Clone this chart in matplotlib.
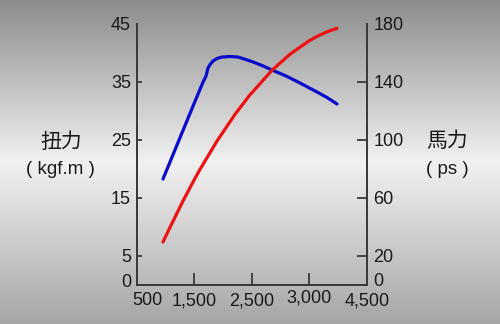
import numpy as np
import matplotlib
matplotlib.use("Agg")
import matplotlib.pyplot as plt
import matplotlib.transforms as mtransforms
from matplotlib.colors import LinearSegmentedColormap

# ---- data ----
x_ticks = [500, 1500, 2500, 3000, 4500]
x_tick_labels = ["500", "1,500", "2,500", "3,000", "4,500"]
torque_ticks = [0, 5, 15, 25, 35, 45]
power_ticks = [0, 20, 60, 100, 140, 180]

torque_rpm = [960, 1307, 1500, 1655, 1707, 1724, 1741, 1776, 1828, 1898, 1984, 2123,
              2262, 2500, 2589, 2676, 2798, 2919, 3000, 3200, 3460, 3720]
torque_val = [18.19, 26.57, 31.22, 34.91, 35.95, 36.64, 37.33, 37.93, 38.53, 38.97, 39.22,
              39.31, 39.22, 38.45, 37.76, 36.98, 35.95, 34.74, 33.88, 33.19, 32.24, 31.12]

power_rpm = [960, 1082, 1307, 1500, 1602, 1898, 2210, 2470, 2500, 2676, 2833, 3000,
             3200, 3460, 3720]
power_val = [29.3, 39.5, 57.6, 72.1, 79.4, 99.0, 117.4, 130.9, 132.1, 147.8, 158.9, 168.2,
             171.1, 174.3, 176.7]

W, H, DPI = 500, 324, 100
fig = plt.figure(figsize=(W / DPI, H / DPI), dpi=DPI)

# background gradient
bg = fig.add_axes([0, 0, 1, 1])
cmap = LinearSegmentedColormap.from_list(
    "bg", [(0.0, "#8c8c8c"), (0.5, "#f1f1f1"), (1.0, "#a6a6a6")])
grad = np.linspace(0, 1, 256).reshape(-1, 1)
bg.imshow(grad, aspect="auto", cmap=cmap, extent=[0, 1, 0, 1], origin="upper")
bg.set_axis_off()

left, right = 136.5 / W, 367 / W
bottom, top = (H - 284.5) / H, (H - 23.5) / H
ax = fig.add_axes([left, bottom, right - left, top - bottom])
ax.set_facecolor("none")

pos = np.arange(len(x_ticks), dtype=float)
def fwd(v):
    return np.interp(v, x_ticks, pos)
def inv(p):
    return np.interp(p, pos, x_ticks)
ax.set_xscale("function", functions=(fwd, inv))
ax.set_xlim(x_ticks[0], x_ticks[-1])
ax.set_ylim(0, 45)

ax2 = ax.twinx()
ax2.set_ylim(0, 180)

spine_c = "#3a3a3a"
for a in (ax, ax2):
    for s in a.spines.values():
        s.set_color(spine_c)
        s.set_linewidth(1.3)
    a.spines["top"].set_visible(False)

tick_font = dict(family="Liberation Sans", size=13)
txt_c = "#1a1a1a"

ax.set_xticks(x_ticks)
ax.set_xticklabels(x_tick_labels, **tick_font, color=txt_c)
ax.tick_params(axis="x", direction="in", length=9, width=1.3, color=spine_c, pad=5.5)
xl = ax.get_xticklabels()
xl[0].set_ha("left")
xl[0].set_transform(xl[0].get_transform() + mtransforms.ScaledTranslation(-4 / DPI, 0, fig.dpi_scale_trans))
xl[3].set_transform(xl[3].get_transform() + mtransforms.ScaledTranslation(0, 3 / DPI, fig.dpi_scale_trans))

ax.set_yticks(torque_ticks)
ax.set_yticklabels([str(t) for t in torque_ticks], **tick_font, color=txt_c)
ax.tick_params(axis="y", direction="in", length=3.8, width=1.3, color=spine_c, pad=4)
ax.yaxis.get_major_ticks()[-1].tick1line.set_visible(False)
yl = ax.get_yticklabels()
yl[0].set_transform(yl[0].get_transform() + mtransforms.ScaledTranslation(0, 4 / DPI, fig.dpi_scale_trans))

ax2.set_yticks(power_ticks)
ax2.set_yticklabels([str(t) for t in power_ticks], **tick_font, color=txt_c)
ax2.tick_params(axis="y", direction="in", length=7.2, width=1.3, color=spine_c, pad=4.5)
ax2.yaxis.get_major_ticks()[-1].tick2line.set_visible(False)
yl2 = ax2.get_yticklabels()
yl2[0].set_transform(yl2[0].get_transform() + mtransforms.ScaledTranslation(0, 5 / DPI, fig.dpi_scale_trans))

ax.plot(torque_rpm, torque_val, color="#0a0acc", lw=2.3, solid_capstyle="round",
        solid_joinstyle="round", zorder=3)
ax2.plot(power_rpm, power_val, color="#ee1111", lw=2.3, solid_capstyle="round",
         solid_joinstyle="round", zorder=3)

cjk = ["Noto Sans CJK JP", "DejaVu Sans"]
fig.text(61 / W, 1 - 142 / H, "扭力", family=cjk, size=15, ha="center", va="center", color=txt_c)
fig.text(60 / W, 1 - 169 / H, "( kgf.m )", family="Liberation Sans", size=13.5,
         ha="center", va="center", color=txt_c)
fig.text(447 / W, 1 - 141 / H, "馬力", family=cjk, size=15, ha="center", va="center", color=txt_c)
fig.text(447 / W, 1 - 169 / H, "( ps )", family="Liberation Sans", size=13.5,
         ha="center", va="center", color=txt_c)

fig.savefig("out.png", dpi=DPI)
